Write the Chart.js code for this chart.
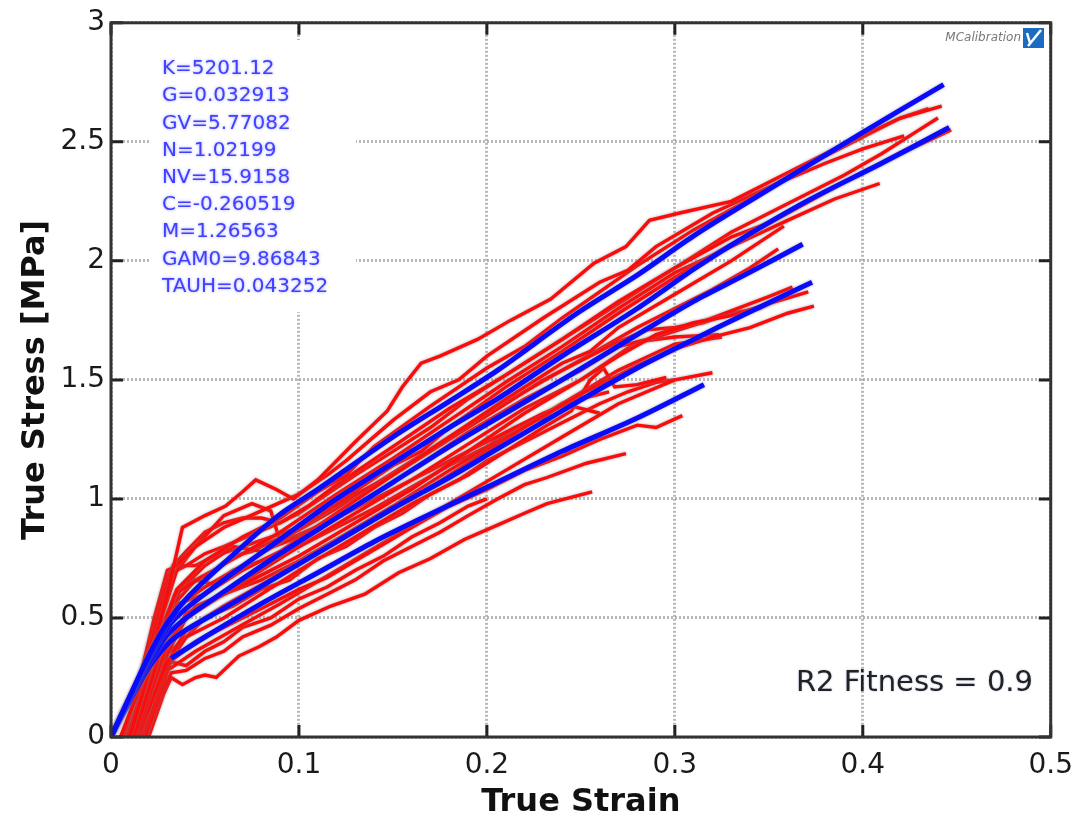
<!DOCTYPE html>
<html>
<head>
<meta charset="utf-8">
<script src="https://cdn.jsdelivr.net/npm/chart.js@4.4.1/dist/chart.umd.min.js"></script>
<style>
  body { margin: 0; background: #fff; }
</style>
</head>
<body>
<canvas id="stressChart" width="1085" height="823"></canvas>
<script>
// tick labels
const xTickValues = [0, 0.1, 0.2, 0.3, 0.4, 0.5];
const xTickLabels = ['0', '0.1', '0.2', '0.3', '0.4', '0.5'];
const yTickValues = [0, 0.5, 1, 1.5, 2, 2.5, 3];
const yTickLabels = ['0', '0.5', '1', '1.5', '2', '2.5', '3'];

const paramLabels = ['K=5201.12', 'G=0.032913', 'GV=5.77082', 'N=1.02199', 'NV=15.9158',
  'C=-0.260519', 'M=1.26563', 'GAM0=9.86843', 'TAUH=0.043252'];
const fitnessLabel = 'R2 Fitness = 0.9';

// model fits (blue), [strain, stress]
const fitA = [[0,0],[0.01,0.17],[0.02,0.34],[0.03,0.48],[0.04,0.58],[0.06,0.73],[0.089,0.93],[0.11,1.04],[0.15,1.26],[0.18,1.41],[0.2056,1.54],[0.248,1.78],[0.28,1.94],[0.311,2.11],[0.35,2.3],[0.4,2.54],[0.443,2.74]];
const fitB = [[0,0],[0.01,0.17],[0.02,0.33],[0.03,0.46],[0.04,0.54],[0.06,0.66],[0.09,0.83],[0.12,1.0],[0.15,1.15],[0.18,1.3],[0.2056,1.42],[0.24,1.6],[0.28,1.8],[0.311,1.97],[0.337,2.1],[0.37,2.25],[0.41,2.41],[0.446,2.56]];
const fitC = [[0,0],[0.01,0.16],[0.02,0.31],[0.03,0.43],[0.04,0.5],[0.06,0.61],[0.09,0.77],[0.12,0.92],[0.15,1.07],[0.18,1.22],[0.2056,1.34],[0.24,1.5],[0.28,1.69],[0.31,1.83],[0.337,1.94],[0.368,2.07]];
const fitD = [[0,0],[0.01,0.15],[0.02,0.29],[0.03,0.39],[0.04,0.45],[0.06,0.54],[0.09,0.68],[0.12,0.82],[0.15,0.96],[0.18,1.09],[0.2056,1.21],[0.24,1.37],[0.28,1.55],[0.31,1.67],[0.337,1.775],[0.373,1.91]];
const fitE = [[0.032,0.33],[0.05,0.42],[0.08,0.56],[0.11,0.69],[0.14,0.82],[0.163,0.91],[0.2056,1.07],[0.24,1.2],[0.28,1.34],[0.3155,1.48]];

// test curves (red), [strain, stress]
const test01 = [[0.005,0],[0.02,0.3],[0.03,0.6],[0.038,0.88],[0.05,0.93],[0.061,0.97],[0.07,1.03],[0.077,1.08],[0.088,1.04],[0.097,1.0],[0.11,1.08],[0.13,1.24],[0.147,1.37],[0.155,1.47],[0.165,1.57],[0.175,1.6],[0.195,1.67],[0.2125,1.75],[0.234,1.84],[0.257,1.99],[0.274,2.06],[0.2865,2.17],[0.302,2.2],[0.33,2.25],[0.36,2.37],[0.39,2.49],[0.42,2.6],[0.442,2.65]];
const test02 = [[0.006,0],[0.02,0.35],[0.032,0.7],[0.045,0.8],[0.06,0.88],[0.08,0.95],[0.1,1.02],[0.115,1.1],[0.125,1.16],[0.15,1.33],[0.17,1.45],[0.185,1.5],[0.2,1.6],[0.23,1.76],[0.26,1.91],[0.275,1.96],[0.29,2.06],[0.32,2.2],[0.35,2.31],[0.38,2.41],[0.4,2.47],[0.422,2.525]];
const test03 = [[0.01,0],[0.025,0.4],[0.035,0.62],[0.05,0.74],[0.07,0.84],[0.09,0.92],[0.11,1.03],[0.125,1.1],[0.14,1.22],[0.17,1.39],[0.2,1.55],[0.22,1.64],[0.24,1.76],[0.28,1.98],[0.31,2.13],[0.34,2.26],[0.37,2.4],[0.4,2.52],[0.42,2.6],[0.435,2.64]];
const test04 = [[0.012,0],[0.026,0.35],[0.035,0.55],[0.05,0.63],[0.07,0.72],[0.09,0.82],[0.12,0.98],[0.15,1.14],[0.165,1.2],[0.18,1.3],[0.21,1.47],[0.24,1.62],[0.27,1.78],[0.3,1.93],[0.33,2.07],[0.36,2.2],[0.39,2.33],[0.42,2.45],[0.447,2.55]];
const test05 = [[0.009,0],[0.024,0.4],[0.034,0.6],[0.05,0.68],[0.07,0.77],[0.09,0.86],[0.12,1.02],[0.15,1.17],[0.18,1.33],[0.21,1.49],[0.24,1.64],[0.27,1.8],[0.3,1.95],[0.33,2.06],[0.36,2.17],[0.385,2.26],[0.409,2.325]];
const test06 = [[0.011,0],[0.027,0.38],[0.036,0.56],[0.05,0.6],[0.07,0.7],[0.09,0.78],[0.12,0.94],[0.15,1.1],[0.18,1.26],[0.21,1.42],[0.24,1.57],[0.255,1.62],[0.27,1.72],[0.3,1.86],[0.33,2.0],[0.358,2.146]];
const test07 = [[0.013,0],[0.028,0.35],[0.04,0.52],[0.06,0.6],[0.08,0.68],[0.1,0.76],[0.13,0.9],[0.16,1.04],[0.19,1.2],[0.22,1.36],[0.25,1.5],[0.27,1.6],[0.29,1.69],[0.31,1.74],[0.33,1.77],[0.35,1.82],[0.371,1.87]];
const test08 = [[0.014,0],[0.029,0.3],[0.04,0.45],[0.06,0.55],[0.08,0.64],[0.1,0.73],[0.13,0.87],[0.16,1.0],[0.19,1.15],[0.22,1.3],[0.25,1.44],[0.28,1.56],[0.3,1.63],[0.32,1.68],[0.34,1.72],[0.36,1.78],[0.374,1.81]];
const test09 = [[0.01,0],[0.026,0.4],[0.037,0.62],[0.05,0.72],[0.065,0.8],[0.08,0.78],[0.1,0.84],[0.13,0.97],[0.16,1.12],[0.19,1.28],[0.22,1.42],[0.25,1.54],[0.27,1.64],[0.29,1.68],[0.31,1.73],[0.33,1.79],[0.35,1.85],[0.3626,1.89]];
const test10 = [[0.015,0],[0.03,0.35],[0.04,0.5],[0.06,0.6],[0.08,0.7],[0.1,0.8],[0.13,0.94],[0.16,1.08],[0.19,1.23],[0.22,1.38],[0.25,1.5],[0.265,1.58],[0.28,1.66],[0.3,1.68],[0.3235,1.69]];
const test11 = [[0.01,0],[0.025,0.45],[0.035,0.7],[0.045,0.8],[0.06,0.93],[0.075,0.98],[0.085,0.95],[0.09,0.82],[0.1,0.85],[0.12,0.92],[0.14,1.0],[0.17,1.12],[0.2,1.24],[0.23,1.36],[0.25,1.42],[0.265,1.45]];
const test12 = [[0.016,0],[0.03,0.3],[0.04,0.42],[0.06,0.5],[0.08,0.6],[0.1,0.7],[0.13,0.84],[0.16,0.98],[0.19,1.1],[0.21,1.2],[0.23,1.3],[0.245,1.37],[0.255,1.5],[0.262,1.55],[0.268,1.47],[0.28,1.48],[0.2955,1.51]];
const test13 = [[0.018,0],[0.032,0.32],[0.045,0.4],[0.06,0.46],[0.08,0.54],[0.1,0.62],[0.115,0.67],[0.13,0.74],[0.16,0.88],[0.18,0.97],[0.2,1.04],[0.22,1.12],[0.24,1.18],[0.26,1.25],[0.28,1.31],[0.29,1.3],[0.304,1.35]];
const test14 = [[0.018,0],[0.028,0.2],[0.032,0.27],[0.04,0.28],[0.05,0.33],[0.06,0.36],[0.07,0.42],[0.085,0.47],[0.1,0.54],[0.115,0.6],[0.13,0.66],[0.145,0.74],[0.16,0.8],[0.175,0.86],[0.19,0.93],[0.2056,1.0],[0.22,1.06],[0.232,1.09],[0.253,1.15],[0.274,1.19]];
const test15 = [[0.02,0],[0.028,0.18],[0.032,0.25],[0.038,0.22],[0.045,0.25],[0.05,0.26],[0.056,0.25],[0.068,0.34],[0.079,0.38],[0.088,0.42],[0.1,0.49],[0.117,0.55],[0.135,0.6],[0.153,0.69],[0.17,0.75],[0.188,0.83],[0.2056,0.89],[0.22,0.94],[0.232,0.98],[0.256,1.03]];
const test16 = [[0.007,0],[0.022,0.45],[0.03,0.68],[0.04,0.72],[0.05,0.77],[0.06,0.8],[0.075,0.85],[0.09,0.9],[0.105,0.97],[0.12,1.06],[0.15,1.22],[0.18,1.38],[0.21,1.52],[0.24,1.67],[0.27,1.83],[0.3,1.97],[0.33,2.1],[0.35,2.16]];
const test17 = [[0.014,0],[0.03,0.4],[0.045,0.55],[0.06,0.6],[0.08,0.66],[0.1,0.74],[0.12,0.83],[0.15,0.97],[0.18,1.12],[0.21,1.26],[0.24,1.4],[0.27,1.54],[0.3,1.65],[0.325,1.68]];
const test18 = [[0.017,0],[0.03,0.28],[0.045,0.36],[0.065,0.45],[0.09,0.56],[0.12,0.7],[0.15,0.84],[0.18,0.98],[0.21,1.12],[0.24,1.26],[0.27,1.4],[0.3,1.5],[0.32,1.53]];
const test19 = [[0.008,0],[0.023,0.5],[0.03,0.7],[0.036,0.72],[0.045,0.72],[0.055,0.76],[0.07,0.8],[0.085,0.84],[0.1,0.88],[0.115,0.95],[0.13,1.02],[0.15,1.1],[0.17,1.2],[0.19,1.3],[0.21,1.4],[0.23,1.5],[0.25,1.58],[0.27,1.66],[0.285,1.71],[0.3,1.72],[0.315,1.74],[0.33,1.78],[0.345,1.8],[0.36,1.86]];
const test20 = [[0.012,0],[0.027,0.42],[0.036,0.62],[0.045,0.66],[0.055,0.64],[0.065,0.7],[0.08,0.74],[0.095,0.78],[0.11,0.84],[0.125,0.9],[0.14,0.96],[0.16,1.05],[0.18,1.14],[0.2,1.22],[0.215,1.3],[0.23,1.34],[0.24,1.4],[0.25,1.38],[0.26,1.36]];
const test21 = [[0.016,0],[0.03,0.35],[0.04,0.42],[0.05,0.5],[0.065,0.55],[0.08,0.62],[0.095,0.66],[0.11,0.75],[0.125,0.8],[0.14,0.88],[0.155,0.94],[0.17,1.02],[0.185,1.08],[0.2,1.16],[0.215,1.22],[0.23,1.28],[0.245,1.34],[0.26,1.4],[0.275,1.45],[0.29,1.49],[0.3,1.5]];
const test22 = [[0.01,0],[0.024,0.5],[0.033,0.72],[0.04,0.78],[0.05,0.86],[0.06,0.9],[0.07,0.92],[0.08,0.92],[0.09,0.9],[0.1,0.94],[0.115,1.02],[0.13,1.1],[0.15,1.2],[0.17,1.3],[0.19,1.42],[0.21,1.52],[0.23,1.62],[0.25,1.72],[0.27,1.82],[0.29,1.92],[0.31,2.02],[0.33,2.12],[0.35,2.2],[0.37,2.28],[0.39,2.36],[0.41,2.45],[0.43,2.55],[0.44,2.6]];
const test23 = [[0.019,0],[0.03,0.32],[0.04,0.3],[0.05,0.36],[0.06,0.4],[0.07,0.46],[0.085,0.5],[0.1,0.58],[0.115,0.63],[0.13,0.7],[0.145,0.76],[0.16,0.84],[0.175,0.9],[0.19,0.97],[0.2,1.0]];
const test24 = [[0.013,0],[0.028,0.45],[0.036,0.58],[0.045,0.66],[0.055,0.7],[0.065,0.76],[0.075,0.78],[0.085,0.82],[0.1,0.87],[0.12,0.96],[0.14,1.06],[0.16,1.16],[0.18,1.26],[0.2,1.36],[0.22,1.45],[0.24,1.54],[0.26,1.63],[0.28,1.72],[0.3,1.8],[0.32,1.88],[0.34,1.97],[0.355,2.05]];

const fits = [fitA, fitB, fitC, fitD, fitE];
const tests = [test01, test02, test03, test04, test05, test06, test07, test08, test09, test10, test11, test12,
  test13, test14, test15, test16, test17, test18, test19, test20, test21, test22, test23, test24];

function toPoints(curve) {
  return curve.map(p => ({ x: p[0], y: p[1] }));
}

let datasets = [];
fits.forEach(function (c) {
  datasets.push({ data: toPoints(c), borderColor: '#0a0aff', borderWidth: 5, tension: 0.3, pointRadius: 0, showLine: true });
});
tests.forEach(function (c) {
  datasets.push({ data: toPoints(c), borderColor: '#ff0a0a', borderWidth: 3.4, tension: 0, pointRadius: 0, showLine: true });
});

const CHART_LEFT = 111, CHART_TOP = 19, CHART_RIGHT = 1055, CHART_BOTTOM = 737;

// soft grey halo round every curve
const haloPlugin = {
  id: 'halo',
  beforeDatasetDraw(chart) {
    const ctx = chart.ctx;
    ctx.save();
    ctx.shadowColor = 'rgba(130,130,130,0.7)';
    ctx.shadowBlur = 3;
  },
  afterDatasetDraw(chart) {
    chart.ctx.restore();
  }
};

const decorPlugin = {
  id: 'decor',
  afterDraw(chart) {
    const ctx = chart.ctx;
    const area = chart.chartArea;
    const xs = chart.scales.x, ys = chart.scales.y;

    // white box behind parameter list
    ctx.save();
    ctx.fillStyle = '#fff';
    ctx.fillRect(150, 40, 206, 272);
    ctx.font = '20px "DejaVu Sans"';
    ctx.fillStyle = '#4040ff';
    ctx.textBaseline = 'middle';
    ctx.shadowColor = 'rgba(150,150,255,0.9)';
    ctx.shadowBlur = 3;
    paramLabels.forEach(function (t, i) {
      ctx.fillText(t, 162, 69 + i * 27.2);
    });
    ctx.restore();

    // inner tick marks
    ctx.save();
    ctx.strokeStyle = '#222';
    ctx.lineWidth = 3;
    xTickValues.forEach(function (v) {
      const px = xs.getPixelForValue(v);
      ctx.beginPath();
      ctx.moveTo(px, area.bottom); ctx.lineTo(px, area.bottom - 12);
      ctx.moveTo(px, area.top); ctx.lineTo(px, area.top + 12);
      ctx.stroke();
    });
    yTickValues.forEach(function (v) {
      const py = ys.getPixelForValue(v);
      ctx.beginPath();
      ctx.moveTo(area.left, py); ctx.lineTo(area.left + 12, py);
      ctx.moveTo(area.right, py); ctx.lineTo(area.right - 12, py);
      ctx.stroke();
    });
    // frame
    ctx.strokeStyle = '#333';
    ctx.lineWidth = 3;
    ctx.strokeRect(area.left, area.top, area.right - area.left, area.bottom - area.top);
    ctx.restore();

    // fitness label
    ctx.save();
    ctx.font = '29px "DejaVu Sans"';
    ctx.fillStyle = '#222';
    ctx.textAlign = 'right';
    ctx.textBaseline = 'middle';
    ctx.shadowColor = 'rgba(120,140,200,0.6)';
    ctx.shadowBlur = 2;
    ctx.fillText(fitnessLabel, 1033, 683);
    ctx.restore();

    // MCalibration mark
    ctx.save();
    ctx.font = 'italic 12px "DejaVu Sans"';
    ctx.fillStyle = '#777';
    ctx.textAlign = 'right';
    ctx.textBaseline = 'middle';
    ctx.fillText('MCalibration', 1021, 38);
    ctx.fillStyle = '#1b6cc0';
    ctx.fillRect(1023, 28, 21, 20);
    ctx.strokeStyle = '#fff';
    ctx.lineWidth = 2.5;
    ctx.beginPath();
    ctx.moveTo(1028, 46); ctx.lineTo(1041, 30);
    ctx.moveTo(1027, 33); ctx.lineTo(1030, 43);
    ctx.stroke();
    ctx.restore();
  }
};

new Chart(document.getElementById('stressChart'), {
  type: 'scatter',
  data: { datasets: datasets },
  plugins: [haloPlugin, decorPlugin],
  options: {
    responsive: false,
    animation: false,
    layout: { padding: { left: 0, right: 1085 - CHART_RIGHT, top: CHART_TOP, bottom: 0 } },
    plugins: { legend: { display: false }, tooltip: { enabled: false } },
    scales: {
      x: {
        type: 'linear',
        min: 0, max: 0.5,
        afterBuildTicks: scale => { scale.ticks = xTickValues.map(v => ({ value: v })); },
        afterFit: scale => { scale.height = 823 - CHART_BOTTOM; },
        ticks: {
          callback: (v, i) => xTickLabels[i],
          font: { family: 'DejaVu Sans', size: 28 },
          color: '#1a1a1a',
          padding: 12,
          maxRotation: 0
        },
        grid: { color: 'rgba(160,160,160,0.75)', lineWidth: 3, tickLength: 0 },
        border: { display: false, dash: [2, 2] },
        title: {
          display: true, text: 'True Strain',
          font: { family: 'DejaVu Sans', size: 32, weight: 'bold' },
          color: '#111', padding: { top: 0, bottom: 1 }
        }
      },
      y: {
        type: 'linear',
        min: 0, max: 3,
        afterBuildTicks: scale => { scale.ticks = yTickValues.map(v => ({ value: v })); },
        afterFit: scale => { scale.width = CHART_LEFT; },
        ticks: {
          callback: (v, i) => yTickLabels[i],
          font: { family: 'DejaVu Sans', size: 28 },
          color: '#1a1a1a',
          padding: 6
        },
        grid: { color: 'rgba(160,160,160,0.75)', lineWidth: 3, tickLength: 0 },
        border: { display: false, dash: [2, 2] },
        title: {
          display: true, text: 'True Stress [MPa]',
          font: { family: 'DejaVu Sans', size: 32, weight: 'bold' },
          color: '#111', padding: { top: 16, bottom: 0 }
        }
      }
    }
  }
});
</script>
</body>
</html>
